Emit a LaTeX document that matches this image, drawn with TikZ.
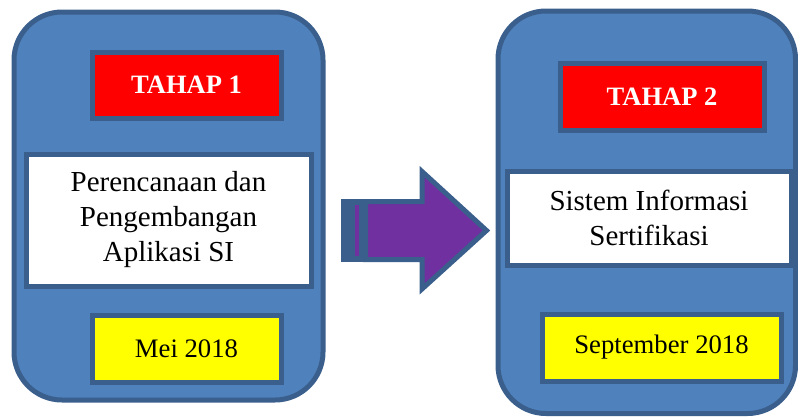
\documentclass[tikz,border=0pt]{standalone}
\usepackage{fontspec}
\setmainfont{Liberation Serif}
\definecolor{panelblue}{HTML}{4F81BD}
\definecolor{edgeblue}{HTML}{3A5F8C}
\definecolor{arrowpurple}{HTML}{7030A0}
\definecolor{phasered}{RGB}{255,0,0}
\definecolor{dateyellow}{RGB}{255,255,0}
\tikzset{
  panel/.style={draw=edgeblue, fill=panelblue, line width=5pt, rounded corners=48pt, inner sep=0pt},
  framebox/.style={draw=edgeblue, line width=5pt, inner sep=0pt, align=center},
  phase/.style={framebox, fill=phasered, text=white, font=\fontsize{26.5}{30}\selectfont\bfseries},
  topic/.style={framebox, fill=white, font=\fontsize{29}{35}\selectfont},
  datebox/.style={framebox, fill=dateyellow, font=\fontsize{26.7}{30}\selectfont},
}
\begin{document}
\begin{tikzpicture}[x=1pt, y=-1pt]
\useasboundingbox (0,0) rectangle (798,416);

% stage 1 panel
\node[panel, minimum width=309pt, minimum height=388pt] (p1) at (168.5,206) {};
\node[phase, minimum width=189pt, minimum height=66pt] (h1) at (186.5,85) {TAHAP 1};
\node[topic, minimum width=285pt, minimum height=132pt] (t1) at (168.5,220)
  {Perencanaan dan\\Pengembangan\\Aplikasi SI};
\node[datebox, minimum width=189pt, minimum height=67pt] (d1) at (186.5,348.5) {Mei 2018};

% stage 2 panel
\node[panel, minimum width=297.5pt, minimum height=402.5pt] (p2) at (646.75,212.25) {};
\node[phase, minimum width=204pt, minimum height=67pt] (h2) at (662,96.5) {TAHAP 2};
\node[topic, minimum width=284pt, minimum height=94pt] (t2) at (649,218)
  {Sistem Informasi\\Sertifikasi};
\node[datebox, minimum width=239pt, minimum height=67pt] (d2) at (661.5,347.5) {September 2018};

% striped block arrow between the stages
\fill[edgeblue] (341,199) rectangle (368,262);
\fill[arrowpurple] (355,205) rectangle (359,256);
\draw[edgeblue, fill=arrowpurple, line width=5pt, line join=miter]
  (365.5,201.5) -- (422,201.5) -- (422,171.5) -- (486.5,230.5)
  -- (422,289) -- (422,259.5) -- (365.5,259.5) -- cycle;
\end{tikzpicture}
\end{document}
